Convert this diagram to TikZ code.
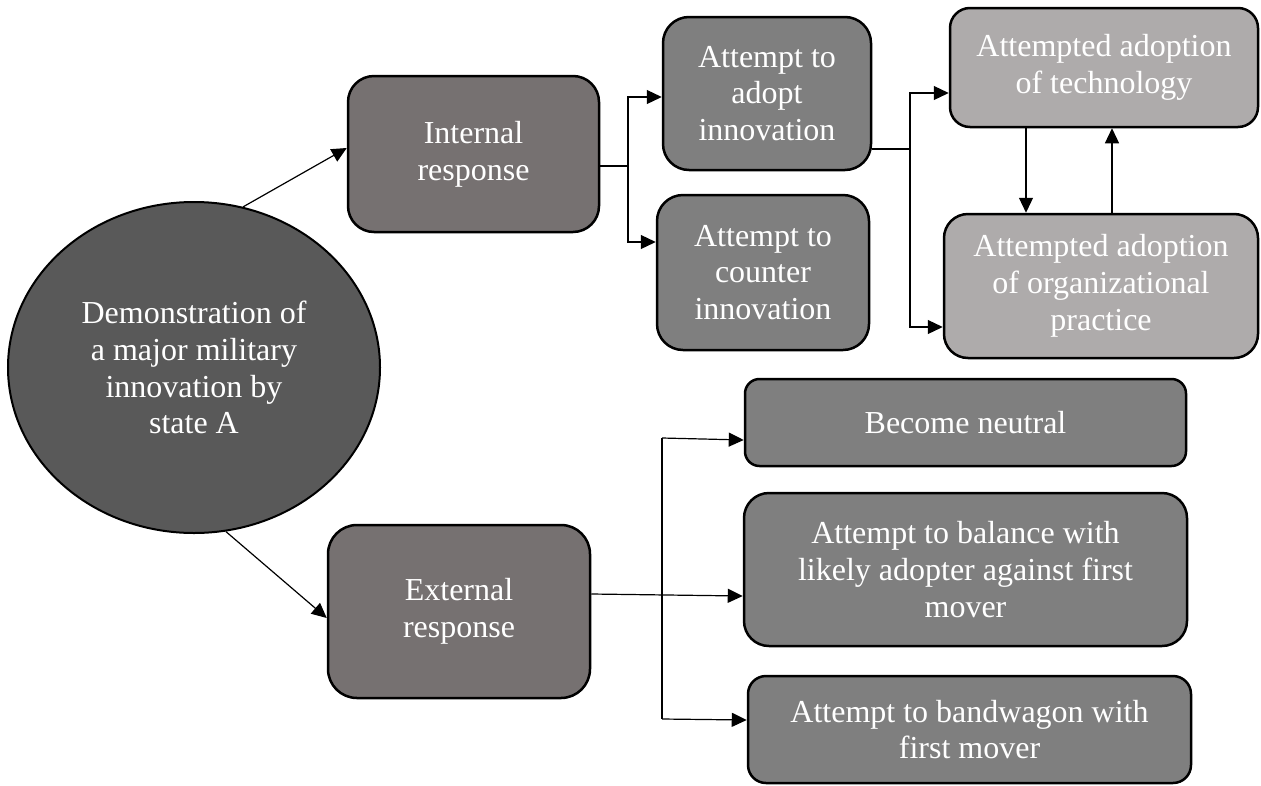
\documentclass[tikz,border=0pt]{standalone}
\usepackage{fontspec}
\setmainfont{Liberation Serif}
\usetikzlibrary{shapes.geometric,arrows.meta}
\definecolor{ellfill}{HTML}{595959}
\definecolor{respfill}{HTML}{767171}
\definecolor{attfill}{HTML}{7F7F7F}
\definecolor{adofill}{HTML}{AEABAB}
\begin{document}
\begin{tikzpicture}[x=1pt,y=-1pt,
  txt/.style={text=white,align=center,font=\fontsize{32pt}{36.8pt}\selectfont,inner sep=0pt},
  box/.style={txt,draw=black,line width=2.5pt,rectangle},
  ellnode/.style={txt,draw=black,line width=2pt,ellipse,fill=ellfill},
  arr/.style={line width=1.2pt,-{Triangle[length=15pt,width=14pt]}},
  ln/.style={line width=1.2pt}]
\useasboundingbox (0,0) rectangle (1261,785);

\node[ellnode,minimum width=372pt,minimum height=331pt] (ell) at (194,367.5)
  {Demonstration of\\a major military\\innovation by\\state A};

\node[box,fill=respfill,minimum width=251pt,minimum height=156pt,rounded corners=26pt] (int) at (473.5,154) {Internal\\response};
\node[box,fill=attfill,minimum width=208pt,minimum height=153pt,rounded corners=26pt] (adopt) at (767,93.5) {Attempt to\\adopt\\innovation};
\node[box,fill=attfill,minimum width=212pt,minimum height=155pt,rounded corners=26pt] (counter) at (763,272.5) {Attempt to\\counter\\innovation};
\node[box,fill=adofill,minimum width=308pt,minimum height=119pt,rounded corners=20pt] (tech) at (1104,67.5) {Attempted adoption\\of technology};
\node[box,fill=adofill,minimum width=314pt,minimum height=144pt,rounded corners=24pt] (org) at (1101,286) {Attempted adoption\\of organizational\\practice};

\node[box,fill=respfill,minimum width=262pt,minimum height=173pt,rounded corners=29pt] (ext) at (459,611.5) {External\\response};
\node[box,fill=attfill,minimum width=441pt,minimum height=87pt,rounded corners=14.5pt] (neutral) at (965.5,422.5) {Become neutral};
\node[box,fill=attfill,minimum width=443pt,minimum height=153pt,rounded corners=25pt] (balance) at (965.5,569.5) {Attempt to balance with\\likely adopter against first\\mover};
\node[box,fill=attfill,minimum width=443pt,minimum height=107pt,rounded corners=18pt] (band) at (969.5,729.5) {Attempt to bandwagon with\\first mover};

% ellipse to responses
\draw[arr] (ell.73) -- ([yshift=6pt]int.west);
\draw[arr] (ell.-79) -- ([yshift=-6.5pt]ext.west);

% internal branches
\coordinate (j1) at (628,166);
\draw[ln] ([yshift=-12pt]int.east) -- (j1);
\draw[arr] (j1) |- ([yshift=-3.5pt]adopt.west);
\draw[arr] (j1) |- ([yshift=30.5pt]counter.west);

% adopt branches
\coordinate (j2) at (910,149);
\draw[ln] ([yshift=-55.5pt]adopt.east) -- (j2);
\draw[arr] (j2) |- ([yshift=-25.5pt]tech.west);
\draw[arr] (j2) |- ([yshift=-41pt]org.west);

% tech <-> org
\draw[arr] ([xshift=-78pt]tech.south) -- ([xshift=-75pt]org.north);
\draw[arr] ([xshift=11pt]org.north) -- ([xshift=8pt]tech.south);

% external branches
\draw[arr] ([yshift=17.5pt]ext.east) -- ([yshift=-26.5pt]balance.west);
\coordinate (j3) at (662,438);
\coordinate (j4) at (662,719);
\draw[ln] (j3) -- (j4);
\draw[arr] (j3) -- ([yshift=-17.5pt]neutral.west);
\draw[arr] (j4) -- ([yshift=9.5pt]band.west);
\end{tikzpicture}
\end{document}
